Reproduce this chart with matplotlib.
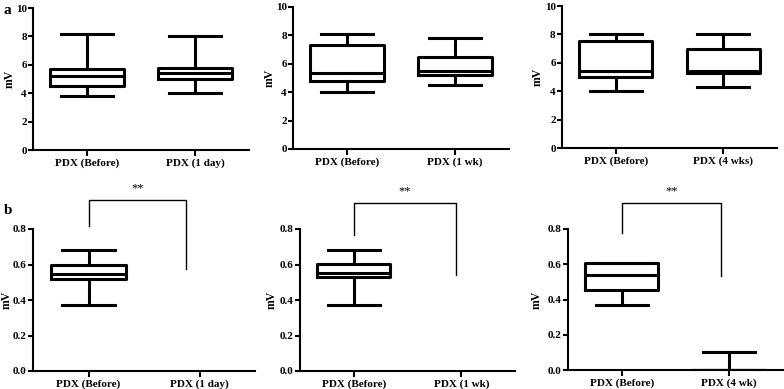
import matplotlib
matplotlib.use("Agg")
import matplotlib.pyplot as plt

plt.rcParams['font.family'] = ['Liberation Serif', 'DejaVu Serif']
plt.rcParams['font.weight'] = 'bold'

# ---- data (whislo, q1, med, q3, whishi) ----
labels_a1 = ["PDX (Before)", "PDX (1 day)"]
labels_a2 = ["PDX (Before)", "PDX (1 wk)"]
labels_a3 = ["PDX (Before)", "PDX (4 wks)"]
labels_b1 = ["PDX (Before)", "PDX (1 day)"]
labels_b2 = ["PDX (Before)", "PDX (1 wk)"]
labels_b3 = ["PDX (Before)", "PDX (4 wk)"]

a1_before = [3.8, 4.5, 5.2, 5.7, 8.15]
a1_after = [4.0, 5.0, 5.4, 5.8, 8.0]
a2_before = [4.0, 4.8, 5.35, 7.3, 8.1]
a2_after = [4.5, 5.2, 5.5, 6.5, 7.8]
a3_before = [4.0, 5.0, 5.45, 7.5, 8.0]
a3_after = [4.3, 5.3, 5.45, 7.0, 8.0]

b1_before = [0.37, 0.52, 0.548, 0.60, 0.68]
b2_before = [0.37, 0.53, 0.552, 0.603, 0.68]
b3_before = [0.37, 0.452, 0.54, 0.605, 0.605]
b3_after = [0.0, 0.0, 0.0, 0.0, 0.10]

# significance brackets: (left x, right x, top y, left bottom, right bottom)
sig_b1 = [1.0, 1.88, 0.963, 0.817, 0.575]
sig_b2 = [1.0, 1.95, 0.946, 0.766, 0.540]
sig_b3 = [1.0, 1.92, 0.950, 0.777, 0.535]
sig_text = "**"

W, H = 784, 389
fig = plt.figure(figsize=(W / 100, H / 100), dpi=100)


def add_ax(x0, y0, x1, y1):
    ax = fig.add_axes([x0 / W, 1 - y1 / H, (x1 - x0) / W, (y1 - y0) / H])
    ax._px = (x0, x1)
    return ax


def mkstats(vals):
    lo, q1, med, q3, hi = vals
    return dict(whislo=lo, q1=q1, med=med, q3=q3, whishi=hi, fliers=[], label='')


def draw(ax, boxes, labels, ylim, yticks, fmt, ylab_x):
    stats = [mkstats(v) for v, p in boxes]
    pos = [p for v, p in boxes]
    lw = 2.2
    ax.bxp(stats, positions=pos, widths=0.68, showfliers=False,
           boxprops=dict(linewidth=lw, color='black'),
           medianprops=dict(linewidth=lw, color='black'),
           whiskerprops=dict(linewidth=lw, color='black'),
           capprops=dict(linewidth=lw, color='black'),
           capwidths=0.48, manage_ticks=False)
    ax.set_xlim(0.5, 2.5)
    ax.set_ylim(*ylim)
    ax.set_xticks([1, 2])
    ax.set_xticklabels(labels, fontsize=8, fontweight='bold')
    ax.set_yticks(yticks)
    ax.set_yticklabels([fmt.format(t) for t in yticks], fontsize=8, fontweight='bold')
    for s in ['top', 'right']:
        ax.spines[s].set_visible(False)
    for s in ['left', 'bottom']:
        ax.spines[s].set_linewidth(1.5)
    ax.tick_params(axis='y', width=1.5, length=3.5, pad=1)
    ax.tick_params(axis='x', width=1.5, length=4, pad=2)
    ax.set_ylabel('mV', fontsize=8.5, fontweight='bold')
    ax.yaxis.label.set_verticalalignment('center')
    x0, x1 = ax._px
    ax.yaxis.set_label_coords((ylab_x - x0) / (x1 - x0), 0.5)


def bracket(ax, sig):
    xl, xr, yt, ylb, yrb = sig
    ax.plot([xl, xl, xr, xr], [ylb, yt, yt, yrb], color='black', lw=1.0, clip_on=False)
    ax.text((xl + xr) / 2, yt + 0.03, sig_text, ha='center', va='bottom',
            fontsize=9, fontweight='normal')


top_ticks = [0, 2, 4, 6, 8, 10]
bot_ticks = [0.0, 0.2, 0.4, 0.6, 0.8]

ax = add_ax(33, 8, 249, 150)
draw(ax, [(a1_before, 1), (a1_after, 2)], labels_a1, (0, 10), top_ticks, "{:.0f}", 10)
ax = add_ax(293, 7, 509, 149)
draw(ax, [(a2_before, 1), (a2_after, 2)], labels_a2, (0, 10), top_ticks, "{:.0f}", 270)
ax = add_ax(562, 6, 777, 148)
draw(ax, [(a3_before, 1), (a3_after, 2)], labels_a3, (0, 10), top_ticks, "{:.0f}", 538)

ax = add_ax(33, 229, 255, 371)
draw(ax, [(b1_before, 1)], labels_b1, (0, 0.8), bot_ticks, "{:.1f}", 7)
bracket(ax, sig_b1)
ax = add_ax(300, 229, 515, 371)
draw(ax, [(b2_before, 1)], labels_b2, (0, 0.8), bot_ticks, "{:.1f}", 272)
bracket(ax, sig_b2)
ax = add_ax(568, 229, 783, 370)
draw(ax, [(b3_before, 1), (b3_after, 2)], labels_b3, (0, 0.8), bot_ticks, "{:.1f}", 537)
bracket(ax, sig_b3)

fig.text(4 / W, 1 - 10 / H, 'a', fontsize=11, fontweight='bold', va='center')
fig.text(4 / W, 1 - 210 / H, 'b', fontsize=11, fontweight='bold', va='center')

fig.savefig('out.png', dpi=100)
